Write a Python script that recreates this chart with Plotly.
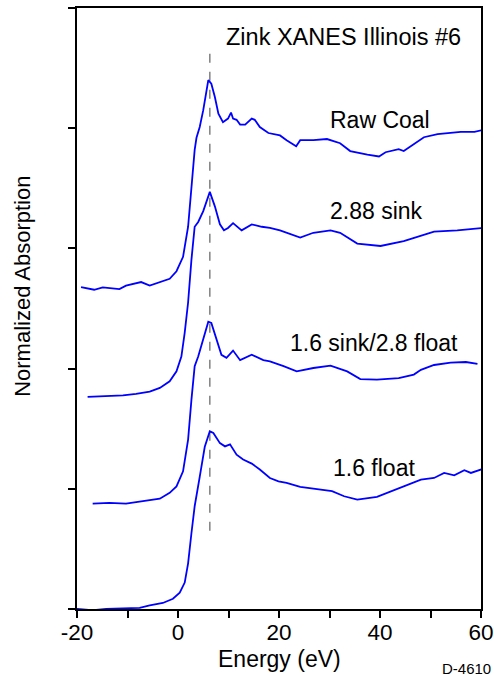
import plotly.graph_objects as go

# energies (eV) and normalized absorption (offset stacked)
raw_e = [-19.2, -16.6, -14.9, -11.6, -10.3, -7.3, -5.6, -3.6, -1.65, -0.3, 1.0, 2.0, 2.66, 3.3,
         3.66, 4.3, 5.0, 6.0, 6.6, 7.3, 8.0, 8.9, 9.9, 10.5, 10.9, 11.6, 12.3, 13.3, 14.6, 15.2,
         16.2, 17.9, 20.2, 21.5, 23.4, 24.2, 26.8, 29.5, 32.1, 34.1, 37.5, 39.8, 41.1, 43.7,
         44.7, 48.7, 51.4, 56.0, 58.7, 60.3]
raw_a = [2.678, 2.656, 2.675, 2.662, 2.69, 2.72, 2.69, 2.72, 2.747, 2.81, 2.93, 3.18, 3.51, 3.82,
         3.92, 4.01, 4.15, 4.40, 4.37, 4.26, 4.12, 4.05, 4.08, 4.13, 4.08, 4.07, 4.03, 4.03, 4.08,
         4.07, 4.01, 3.96, 3.94, 3.90, 3.85, 3.90, 3.90, 3.91, 3.875, 3.81, 3.78, 3.765, 3.80,
         3.825, 3.81, 3.925, 3.95, 3.97, 3.97, 3.985]

sink288_e = [-17.9, -14.9, -10.9, -8.3, -5.6, -3.6, -1.65, -0.3, 0.67, 1.33, 1.8, 2.0, 2.66, 3.3,
             4.0, 5.0, 6.3, 7.3, 8.3, 9.1, 9.9, 10.9, 12.6, 14.6, 16.6, 18.2, 20.2, 24.2, 26.8,
             30.2, 32.1, 35.5, 40.1, 44.7, 50.7, 55.3, 60.3]
sink288_a = [1.764, 1.769, 1.777, 1.789, 1.808, 1.839, 1.894, 1.977, 2.10, 2.30, 2.48, 2.55, 2.905,
             3.18, 3.22, 3.31, 3.47, 3.35, 3.20, 3.15, 3.17, 3.21, 3.15, 3.20, 3.18, 3.17, 3.15,
             3.09, 3.13, 3.15, 3.13, 3.04, 3.02, 3.06, 3.14, 3.15, 3.17]

mid_e = [-16.9, -13.6, -10.3, -7.0, -3.6, -1.65, -0.3, 1.0, 2.0, 2.66, 3.3, 4.0, 5.0, 6.0, 6.6,
         7.6, 8.6, 9.6, 10.9, 12.3, 14.6, 16.9, 18.2, 20.9, 23.5, 26.8, 30.2, 33.5, 36.1, 39.4,
         43.7, 46.7, 48.1, 50.7, 54.0, 57.0, 59.3]
mid_a = [0.877, 0.883, 0.877, 0.90, 0.918, 0.966, 1.02, 1.145, 1.41, 1.74, 2.02, 2.10, 2.24, 2.39,
         2.38, 2.24, 2.115, 2.09, 2.15, 2.07, 2.115, 2.07, 2.06, 2.02, 1.977, 2.005, 2.024, 1.977,
         1.913, 1.908, 1.92, 1.95, 1.99, 2.03, 2.05, 2.055, 2.04]

float_e = [-20.0, -16.9, -14.2, -10.3, -7.6, -5.6, -3.0, -1.0, 0.34, 1.33, 2.0, 2.66, 3.3, 4.3,
           5.3, 6.3, 7.0, 8.3, 9.3, 10.3, 11.6, 12.9, 14.6, 16.2, 18.2, 19.9, 21.5, 24.2, 28.2,
           30.5, 32.9, 35.5, 39.4, 44.1, 48.1, 50.7, 52.7, 54.7, 56.7, 58.0, 60.3]
float_a = [0.0, -0.01, 0.0, 0.007, 0.01, 0.03, 0.05, 0.085, 0.135, 0.22, 0.38, 0.63, 0.855, 1.10,
           1.35, 1.478, 1.465, 1.38, 1.353, 1.37, 1.284, 1.243, 1.21, 1.16, 1.09, 1.062, 1.05,
           1.016, 0.993, 0.98, 0.938, 0.91, 0.933, 1.008, 1.077, 1.09, 1.132, 1.112, 1.154,
           1.132, 1.165]

labels = ["Raw Coal", "2.88 sink", "1.6 sink/2.8 float", "1.6 float"]
label_x = [39.9, 39.4, 38.9, 38.8]
label_y = [4.07, 3.31, 2.21, 1.174]

edge_e = 6.3
edge_span = [0.65, 4.67]

FONT = "Liberation Sans, Arial, sans-serif"

fig = go.Figure()

# dashed marker at the white-line energy
fig.add_trace(go.Scatter(x=[edge_e, edge_e], y=edge_span, mode="lines",
                         line=dict(color="#808080", width=1.5, dash="dash"),
                         hoverinfo="none", showlegend=False))

for xs, ys in [(raw_e, raw_a), (sink288_e, sink288_a), (mid_e, mid_a), (float_e, float_a)]:
    fig.add_trace(go.Scatter(x=xs, y=ys, mode="lines",
                             line=dict(color="#0000ff", width=1.8),
                             showlegend=False))

for t, x, y in zip(labels, label_x, label_y):
    fig.add_annotation(x=x, y=y, text=t, showarrow=False,
                       font=dict(family=FONT, size=23, color="black"))

fig.add_annotation(x=32.7, y=4.76, text="Zink XANES Illinois #6", showarrow=False,
                   font=dict(family=FONT, size=23.5, color="black"))

# axis titles and figure id as paper annotations (no automargin side effects)
fig.add_annotation(xref="paper", yref="paper", x=0, y=0.536, xanchor="center", xshift=-54,
                   text="Normalized Absorption", textangle=-90, showarrow=False,
                   font=dict(family=FONT, size=22, color="black"))
fig.add_annotation(xref="paper", yref="paper", x=0.5, y=0, yanchor="middle", yshift=-50,
                   text="Energy (eV)", showarrow=False,
                   font=dict(family=FONT, size=23, color="black"))
fig.add_annotation(xref="paper", yref="paper", x=1, y=0, xanchor="right", yanchor="middle",
                   xshift=12, yshift=-59, text="D-4610", showarrow=False,
                   font=dict(family=FONT, size=15, color="black"))

xt = list(range(-20, 61, 10))
fig.update_xaxes(range=[-20, 60], tickvals=xt,
                 ticktext=[str(v) if v % 20 == 0 else "" for v in xt],
                 ticks="outside", ticklen=7, tickwidth=2, tickcolor="black",
                 ticklabelstandoff=-5,
                 showline=True, linecolor="black", linewidth=2, mirror=True,
                 showgrid=False, zeroline=False, automargin=False,
                 tickfont=dict(family=FONT, size=22.5, color="black"))
fig.update_yaxes(range=[0, 5], tickvals=[0, 1, 2, 3, 4, 5], showticklabels=False,
                 ticks="outside", ticklen=7, tickwidth=2, tickcolor="black",
                 showline=True, linecolor="black", linewidth=2, mirror=True,
                 showgrid=False, zeroline=False, automargin=False)

fig.update_layout(width=494, height=676,
                  margin=dict(l=77, r=13, t=8, b=67),
                  plot_bgcolor="white", paper_bgcolor="white",
                  font=dict(family=FONT, color="black"))

# page body has a default 8px margin; drop it so the figure fills the window
fig.write_html("out.html",
               config={"responsive": False, "displayModeBar": False},
               post_script="document.body.style.margin='0';"
                           "document.documentElement.style.overflow='hidden';")
